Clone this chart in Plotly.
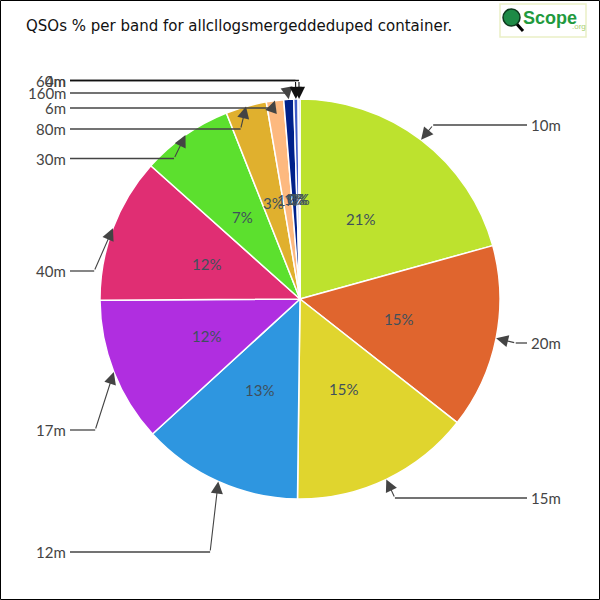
import math
import plotly.graph_objects as go

# ---- data ----
bands = ["10m", "20m", "15m", "12m", "17m", "40m", "30m", "80m", "6m", "160m", "60m", "4m"]
shares = [20.7, 14.9, 14.6, 13.0, 11.7, 11.7, 7.4, 3.3, 1.4, 0.8, 0.35, 0.15]
colors = ["#BDE22E", "#E0652E", "#E0D52E", "#2E96E0", "#B02EE0", "#E02E73",
          "#5CE02E", "#E0B02E", "#FDB97F", "#00218A", "#3E5BC8", "#A9B6EE"]
# vertical pixel position of each outside label (label layout)
label_y = [125, 343, 498, 552, 430, 271, 158.5, 129, 108, 93, 80.5, 80.5]

title_text = "QSOs % per band for allcllogsmergeddeduped container."

W = H = 600
CX, CY, R = 300, 299, 200


def px(x, y):
    return x / W, 1 - y / H


total = sum(shares)
fig = go.Figure()
fig.add_trace(go.Pie(
    labels=bands, values=shares, sort=False, direction="clockwise", rotation=0,
    marker=dict(colors=colors, line=dict(color="white", width=1.5)),
    textinfo="none", hoverinfo="label+percent", showlegend=False,
    domain=dict(x=[(CX - R) / W, (CX + R) / W], y=[1 - (CY + R) / H, 1 - (CY - R) / H]),
))

annotations = []
shapes = []
cum = 0.0
for band, v, ly in zip(bands, shares, label_y):
    frac_mid = (cum + v / 2) / total
    cum += v
    th = 2 * math.pi * frac_mid
    s, c = math.sin(th), math.cos(th)
    # percentage text inside
    tx, ty = px(CX + 0.5 * R * s, CY - 0.5 * R * c)
    annotations.append(dict(x=tx, y=ty, xref="paper", yref="paper", showarrow=False,
                            text=f"{round(v / total * 100)}%",
                            font=dict(family="Lato", size=15, color="#3F505C"),
                            xanchor="center", yanchor="middle"))
    tipx, tipy = CX + R * s, CY - R * c
    elbx = CX + 1.1 * R * s
    right = s > 0
    lx_text = 529 if right else 68
    lx_line = 527 if right else 70
    line_col = "#111" if ly < 85 else "#444"
    shapes.append(dict(type="line", xref="paper", yref="paper",
                       x0=lx_line / W, x1=elbx / W, y0=1 - ly / H, y1=1 - ly / H,
                       line=dict(color=line_col, width=1.3)))
    ax, ay = px(tipx, tipy)
    annotations.append(dict(x=ax, y=ay, xref="paper", yref="paper", text="",
                            showarrow=True, arrowhead=2, arrowsize=2.2, arrowwidth=1.1,
                            arrowcolor=line_col, ax=elbx - tipx, ay=ly - tipy, standoff=0))
    lxp, lyp = px(lx_text, ly)
    annotations.append(dict(x=lxp, y=lyp, xref="paper", yref="paper", showarrow=False,
                            text=band, font=dict(family="Lato", size=15, color="#444"),
                            xanchor="left" if right else "right", yanchor="middle"))

# title
tx, ty = px(24, 26)
annotations.append(dict(x=tx, y=ty, xref="paper", yref="paper", showarrow=False,
                        text=title_text, font=dict(family="DejaVu Sans", size=15, color="#111"),
                        xanchor="left", yanchor="middle"))

# logo
shapes.append(dict(type="rect", xref="paper", yref="paper",
                   x0=500 / W, x1=586 / W, y0=1 - 37 / H, y1=1 - 4 / H,
                   line=dict(color="#EAF0C6", width=1.5), fillcolor="white"))
shapes.append(dict(type="line", xref="paper", yref="paper",
                   x0=515 / W, y0=1 - 22 / H, x1=523 / W, y1=1 - 31 / H,
                   line=dict(color="black", width=3)))
shapes.append(dict(type="circle", xref="paper", yref="paper",
                   x0=503 / W, x1=520 / W, y0=1 - 26 / H, y1=1 - 9 / H,
                   line=dict(color="#0E3A1E", width=1.5), fillcolor="#1E8A46"))
lx, ly_ = px(521, 18)
annotations.append(dict(x=lx, y=ly_, xref="paper", yref="paper", showarrow=False,
                        text="<b>Scope</b>", font=dict(family="Liberation Sans", size=18, color="#1F9A3E"),
                        xanchor="left", yanchor="middle"))
lx, ly_ = px(570, 26)
annotations.append(dict(x=lx, y=ly_, xref="paper", yref="paper", showarrow=False,
                        text=".org", font=dict(family="Liberation Sans", size=8, color="#A8D070"),
                        xanchor="left", yanchor="middle"))

# outer border
shapes.append(dict(type="rect", xref="paper", yref="paper",
                   x0=0.5 / W, x1=599.5 / W, y0=0.5 / H, y1=599.5 / H,
                   line=dict(color="black", width=1)))

fig.update_layout(width=W, height=H, margin=dict(l=0, r=0, t=0, b=0),
                  paper_bgcolor="white", plot_bgcolor="white",
                  annotations=annotations, shapes=shapes)
fig.write_html("out.html", config={"displayModeBar": False},
               post_script="document.body.style.margin='0';document.body.style.overflow='hidden';")
